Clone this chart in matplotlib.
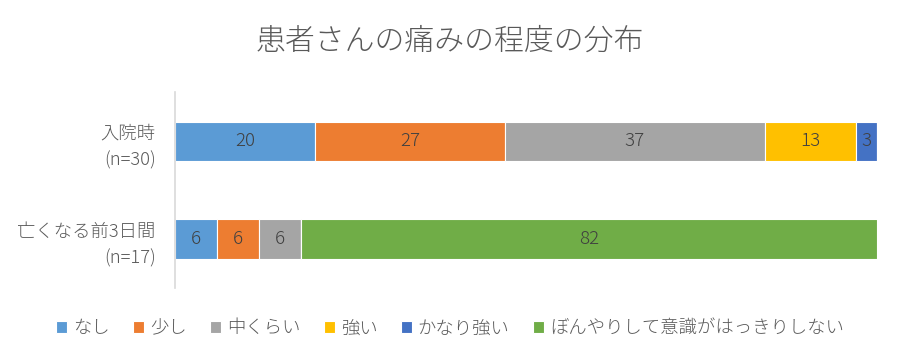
import matplotlib
matplotlib.use("Agg")
import matplotlib.pyplot as plt
import numpy as np

plt.rcParams['font.family'] = ['Noto Sans CJK JP', 'DejaVu Sans']

categories = ["入院時\n(n=30)", "亡くなる前3日間\n(n=17)"]
series_names = ["なし", "少し", "中くらい", "強い", "かなり強い", "ぼんやりして意識がはっきりしない"]
values = {
    "なし": [20, 6],
    "少し": [27, 6],
    "中くらい": [37, 6],
    "強い": [13, 0],
    "かなり強い": [3, 0],
    "ぼんやりして意識がはっきりしない": [0, 82],
}
colors = ["#5B9BD5", "#ED7D31", "#A5A5A5", "#FFC000", "#4472C4", "#70AD47"]
title = "患者さんの痛みの程度の分布"

fig = plt.figure(figsize=(9, 3.6), dpi=100)
ax = fig.add_axes([0.1944, 0.2, 0.78, 0.544])

y = np.arange(len(categories))
left = np.zeros(len(categories))
for name, col in zip(series_names, colors):
    vals = np.array(values[name], dtype=float)
    bars = ax.barh(y, vals, left=left, height=0.4, color=col, edgecolor="white", linewidth=0.8, label=name)
    labels = [f"{int(v)}" if v > 0 else "" for v in vals]
    ax.bar_label(bars, labels=labels, label_type="center", fontsize=13.5, color="#404040",
                 fontweight="light")
    left += vals

ax.set_xlim(0, 100)
ax.set_ylim(1.5, -0.5)
ax.set_yticks(y)
ax.set_yticklabels(categories, fontsize=13.2, color="#595959", linespacing=1.55, fontweight="light")
ax.tick_params(axis="y", length=0, pad=14)
ax.set_xticks([])
for s in ["top", "right", "bottom"]:
    ax.spines[s].set_visible(False)
ax.spines["left"].set_color("#D9D9D9")
ax.spines["left"].set_linewidth(1.2)

fig.text(0.5, 0.885, title, ha="center", va="center", fontsize=21.5, color="#595959",
         fontweight="light")

fig.legend(loc="center", bbox_to_anchor=(0.5, 0.088), ncol=6, frameon=False,
           fontsize=13.2, labelcolor="#595959", handlelength=0.6, handleheight=0.6,
           handletextpad=0.3, columnspacing=1.3, prop={"size": 13.2, "weight": "light"})

fig.savefig("out.png", dpi=100)
